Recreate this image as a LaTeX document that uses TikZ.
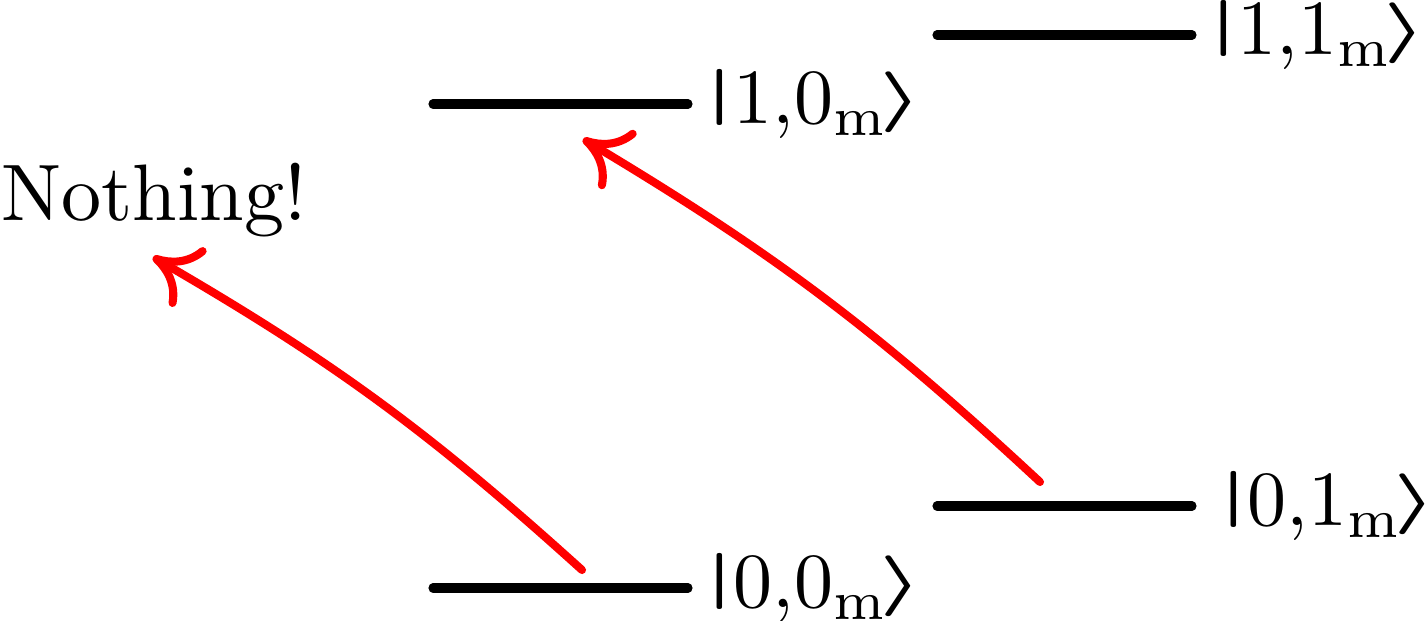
\documentclass[tikz,border=0pt]{standalone}
\usepackage{amsmath}
\usepackage{tikz}
\usetikzlibrary{arrows.meta,positioning,calc}
\newcommand{\fockbra}{\raisebox{0.15em}{\scalebox{1.15}[0.72]{$\boldsymbol{|}$}}}
\newcommand{\fockket}{\kern-0.12em\raisebox{0.07em}{\scalebox{1.25}[0.78]{$\boldsymbol{\rangle}$}}}
\tikzset{
level/.style = {draw=black, line width=2.6pt, line cap=round},
ket/.style = {anchor=west, inner sep=2pt, scale=2.22, transform shape},
jump/.style = {draw=red, line width=2.3pt, line cap=round, -{To[length=4.4mm,width=6.8mm,round]}},
word/.style = {inner sep=0pt, scale=2.28, transform shape}
}

\begin{document}
\begin{tikzpicture}[auto]
  \useasboundingbox (0,0) rectangle (14.28,6.21);
  % energy levels
  \coordinate (l00a) at (4.33,0.33);
  \coordinate (l00b) at (6.88,0.33);
  \coordinate (l10a) at (4.33,5.17);
  \coordinate (l10b) at (6.88,5.17);
  \coordinate (l01a) at (9.37,1.15);
  \coordinate (l01b) at (11.92,1.15);
  \coordinate (l11a) at (9.37,5.86);
  \coordinate (l11b) at (11.92,5.86);
  \draw [level] (l00a) -- (l00b);
  \draw [level] (l10a) -- (l10b);
  \draw [level] (l01a) -- (l01b);
  \draw [level] (l11a) -- (l11b);
  \node [ket] (k00) at (l00b) {\fockbra$0{,}0_\mathrm{m}$\fockket};
  \node [ket] (k10) at (l10b) {\fockbra$1{,}0_\mathrm{m}$\fockket};
  \node [ket] (k01) at ($(l01b)+(0.1,0)$) {\fockbra$0{,}1_\mathrm{m}$\fockket};
  \node [ket] (k11) at (l11b) {\fockbra$1{,}1_\mathrm{m}$\fockket};
  \node [word, anchor=west] (nothing) at (0,4.21) {Nothing!};
  % transitions
  \coordinate (s00) at (5.82,0.51);
  \coordinate (s01) at (10.40,1.39);
  \coordinate (t00) at (1.53,3.64);
  \coordinate (t01) at (5.83,4.82);
  \draw [jump] (s00) to [bend right=6] (t00);
  \draw [jump] (s01) to [bend right=6] (t01);
\end{tikzpicture}
\end{document}
